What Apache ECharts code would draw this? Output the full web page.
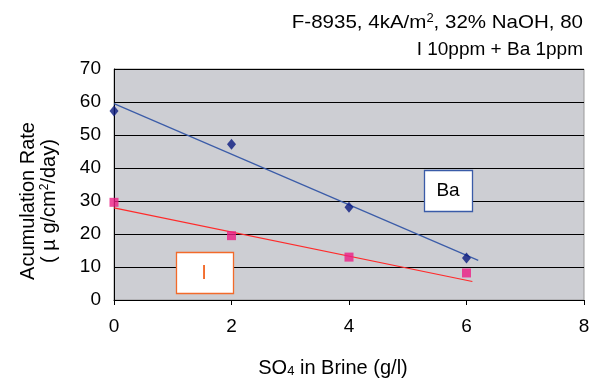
<!DOCTYPE html>
<html><head><meta charset="utf-8">
<script src="https://cdn.jsdelivr.net/npm/echarts@6/dist/echarts.min.js"></script>
<style>html,body{margin:0;padding:0;background:#fff}#c{width:589px;height:379px}</style>
</head><body><div id="c"></div>
<script>
var xTicks = [0, 2, 4, 6, 8];
var yTicks = [0, 10, 20, 30, 40, 50, 60, 70];
var baX = [0, 2, 4, 6];
var baY = [57.3, 47.2, 28.1, 12.7];
var iX = [0, 2, 4, 6];
var iY = [29.6, 19.5, 13.0, 8.2];
var baTrend = [[0, 59.5], [6.2, 12.0]];
var iTrend = [[0, 27.9], [6.1, 5.6]];

var FONT = 'Liberation Sans, Arial, sans-serif';
var chart = echarts.init(document.getElementById('c'));
function pairs(xs, ys){ return xs.map(function(x,i){return [x, ys[i]];}); }
var rich = {
  a: {fontSize: 19, fontFamily: FONT, color: '#000'},
  sup: {fontSize: 12, fontFamily: FONT, color: '#000', padding: [0, 0, 9, 0]},
  sub: {fontSize: 13, fontFamily: FONT, color: '#000', padding: [7, 0, 0, 0]}
};
chart.setOption({
  animation: false,
  grid: {left: 114, right: 5, top: 69, bottom: 79, outerBoundsMode: 'none', containLabel: false,
         show: true, backgroundColor: '#cdced3', borderColor: '#999', borderWidth: 1},
  xAxis: {
    type: 'value', min: xTicks[0], max: xTicks[xTicks.length-1], interval: 2,
    axisLine: {show: true, lineStyle: {color: '#000', width: 1}},
    axisTick: {show: true, inside: false, length: 5, lineStyle: {color: '#000'}},
    axisLabel: {fontSize: 19, color: '#000', fontFamily: FONT, margin: 17},
    splitLine: {show: false}
  },
  yAxis: {
    type: 'value', min: yTicks[0], max: yTicks[yTicks.length-1], interval: 10,
    axisLine: {show: true, lineStyle: {color: '#000', width: 1}},
    axisTick: {show: false},
    axisLabel: {fontSize: 19, color: '#000', fontFamily: FONT, margin: 13},
    splitLine: {show: true, lineStyle: {color: '#000', width: 1}}
  },
  graphic: [
    {type: 'text', x: 583, y: 23, scaleX: 1.08, style: {text: '{a|F-8935, 4kA/m}{sup|2}{a|, 32% NaOH, 80}', rich: rich, align: 'right', verticalAlign: 'middle'}},
    {type: 'text', x: 583, y: 50, style: {text: '{a|I 10ppm + Ba 1ppm}', rich: rich, align: 'right', verticalAlign: 'middle'}},
    {type: 'text', x: 28, y: 201, rotation: Math.PI/2, style: {text: 'Acumulation Rate', fontSize: 20, fontFamily: FONT, fill: '#000', align: 'center', verticalAlign: 'middle'}},
    {type: 'text', x: 49, y: 201, rotation: Math.PI/2, style: {text: '{a|( µ g/cm}{sup|2}{a|/day)}', rich: {a: {fontSize: 20, fontFamily: FONT, color: '#000'}, sup: rich.sup}, align: 'center', verticalAlign: 'middle'}},
    {type: 'text', x: 333, y: 368, style: {text: '{a|SO}{sub|4}{a| in Brine (g/l)}', rich: {a: {fontSize: 20, fontFamily: FONT, color: '#000'}, sub: rich.sub}, align: 'center', verticalAlign: 'middle'}},
    {type: 'group', x: 424, y: 170, z: 100, children: [
      {type: 'rect', z: 100, shape: {x: 0.5, y: 0.5, width: 48, height: 41}, style: {fill: '#fff', stroke: '#3a5ba8', lineWidth: 1.3}},
      {type: 'text', z: 101, x: 24, y: 21, style: {text: 'Ba', fontSize: 19, fontFamily: FONT, fill: '#000', align: 'center', verticalAlign: 'middle'}}
    ]},
    {type: 'group', x: 176, y: 252, z: 100, children: [
      {type: 'rect', z: 100, shape: {x: 0.5, y: 0.5, width: 57, height: 41}, style: {fill: '#fff', stroke: '#f26a2a', lineWidth: 1.3}},
      {type: 'text', z: 101, x: 28, y: 21, style: {text: 'I', fontSize: 20, fontFamily: FONT, fill: '#f26a2a', align: 'center', verticalAlign: 'middle'}}
    ]}
  ],
  series: [
    {type: 'line', data: baTrend, symbol: 'none', lineStyle: {color: '#3b5ca8', width: 1.2}, z: 2},
    {type: 'line', data: iTrend, symbol: 'none', lineStyle: {color: '#ff2a2a', width: 1.2}, z: 2},
    {type: 'scatter', data: pairs(baX, baY), symbol: 'diamond', symbolSize: [9, 11], itemStyle: {color: '#0a1a80'}, z: 3},
    {type: 'scatter', data: pairs(iX, iY), symbol: 'rect', symbolSize: 9, itemStyle: {color: '#ec1e84'}, z: 3}
  ]
});
</script></body></html>
